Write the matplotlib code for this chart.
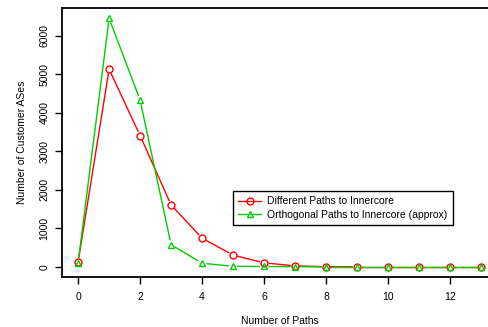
import matplotlib.pyplot as plt
import numpy as np

plt.rcParams['font.family'] = ['Liberation Sans', 'DejaVu Sans']

# Number of paths 0..13
paths = np.arange(0, 14)
different = [130, 5130, 3410, 1610, 750, 310, 110, 30, 8, 5, 5, 5, 5, 5]
orthogonal = [110, 6450, 4330, 580, 100, 20, 15, 10, 5, 5, 5, 5, 5, 5]

fig = plt.figure(figsize=(4.89, 3.27), dpi=100)
ax = fig.add_axes([0.1268, 0.1529, 0.8896, 0.8226])

ax.set_xlim(-0.52, 13.52)
ax.set_ylim(-258, 6718)


def draw_b(x, y, color, marker, gap=5.0):
    # R type="b": segments with gaps around points
    pts = ax.transData.transform(np.column_stack([x, y]))
    inv = ax.transData.inverted()
    for p0, p1 in zip(pts[:-1], pts[1:]):
        d = p1 - p0
        L = np.hypot(*d)
        if L <= 2 * gap:
            continue
        u = d / L
        a = inv.transform(p0 + u * gap)
        b = inv.transform(p1 - u * gap)
        ax.plot([a[0], b[0]], [a[1], b[1]], color=color, lw=1.0)
    ax.plot(x, y, linestyle='none', marker=marker, ms=5, mfc='none',
            mec=color, mew=1.0)


draw_b(paths, different, '#ff0000', 'o')
draw_b(paths, orthogonal, '#00cd00', '^')

ax.set_xticks(range(0, 13, 2))
ax.set_yticks(range(0, 7000, 1000))
ax.tick_params(axis='both', direction='out', length=5, width=1.0,
               labelsize=7.5)
ax.tick_params(axis='x', pad=6)
ax.tick_params(axis='y', pad=4)
for lab in ax.get_yticklabels():
    lab.set_rotation(90)
    lab.set_va('center')
for s in ax.spines.values():
    s.set_linewidth(1.3)

ax.set_xlabel('Number of Paths', fontsize=7.5, labelpad=10)
ax.set_ylabel('Number of Customer ASes', fontsize=7.5, labelpad=9)

h1, = ax.plot([], [], color='#ff0000', marker='o', mfc='none', ms=5, lw=1.0)
h2, = ax.plot([], [], color='#00cd00', marker='^', mfc='none', ms=5, lw=1.0)
leg = ax.legend([h1, h2], ['Different Paths to Innercore',
                           'Orthogonal Paths to Innercore (approx)'],
                loc='upper left',
                bbox_to_anchor=((233 - 62) / 435, 1 - (191 - 8) / 269),
                fontsize=7.5, fancybox=False, framealpha=1, edgecolor='black',
                handlelength=2.2, borderpad=0.5, labelspacing=0.35,
                handletextpad=0.6, borderaxespad=0)
leg.get_frame().set_linewidth(1.0)

fig.savefig('out.png', dpi=100)
